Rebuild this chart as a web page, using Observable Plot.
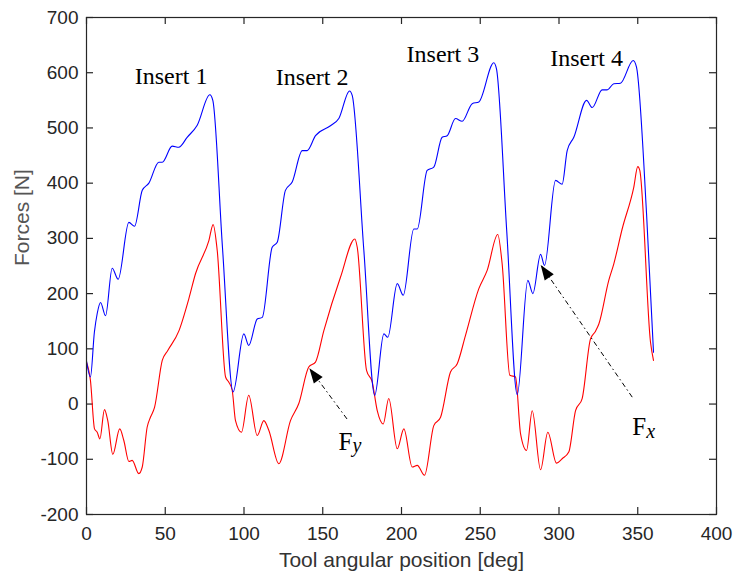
<!DOCTYPE html>
<html>
<head>
<meta charset="utf-8">
<script src="https://cdn.jsdelivr.net/npm/d3@7"></script>
<script src="https://cdn.jsdelivr.net/npm/@observablehq/plot@0.6"></script>
<style>
  html, body { margin: 0; padding: 0; background: #fff; }
  #chart { width: 737px; height: 580px; }
</style>
</head>
<body>
<div id="chart"></div>
<script>
// ---- Data ----
const fxAngle = [0, 2.5, 5.0, 6.8, 8.9, 12.1, 16.3, 20.1, 26.9, 30.5, 35.4, 39.6, 45.9, 48.1, 54.4, 58.6, 63.9, 70.3, 78.3, 80.2, 86.3, 93.1,
  99.9, 103, 108.4, 111.6, 117.9, 121.1, 126.3, 130.6, 137, 140.1, 145.4, 154.9, 160.2, 167, 168.7, 176.1, 183,
  188.8, 191.3, 197.3, 201.1, 207.8, 210, 216.3, 220.5, 225.8, 229, 234.3, 238.5, 244.9, 249.1, 258.6, 260.3, 266.8, 273.5,
  280.2, 283.4, 288.3, 290.8, 297.8, 302, 305.2, 309.4, 317.5, 321.1, 327.4, 330.6, 334.8, 339, 347.1, 349.2, 355.6, 360];
const fxForce = [78, 49, 130, 164, 184, 160, 246, 226, 329, 322, 387, 400, 438, 438, 467, 465, 483, 505, 560, 550, 285, 22,
  127, 106, 154, 157, 284, 293, 387, 402, 459, 459, 486, 504, 517, 567, 559, 278, 16,
  127, 121, 218, 197, 317, 317, 423, 429, 483, 486, 517, 512, 544, 547, 618, 607, 314, 17,
  224, 200, 271, 251, 405, 398, 459, 483, 550, 537, 569, 569, 580, 581, 622, 610, 344, 94];

const fyAngle = [0, 2.5, 5.1, 6.8, 8.5, 11.4, 13.5, 16.7, 21.1, 23.7, 26.9, 29, 33.2, 35.4, 38.5, 40.6, 43.2, 48.1, 51.6, 58.6,
  65, 69.2, 77.7, 80.4, 83, 88.3, 90.3, 92.5, 94.6, 98.4, 103, 108.4, 112.6, 115.8, 122.1, 129.5, 134.8, 141.1, 145.4,
  150.7, 161.3, 170.4, 171.9, 177.8, 181.4, 184.6, 188.4, 191.9, 197.3, 201.5, 206.8, 210, 214.6, 220.5, 224.8, 231.1,
  235.4, 240.6, 249.1, 254.4, 261.1, 263.9, 268.8, 272.4, 275.6, 279.4, 283, 288.3, 292.9, 298.4, 302, 306.2, 310.5,
  314.7, 320, 323.2, 325.3, 331.6, 334.8, 340.1, 347.5, 350, 351.3, 358.1, 360];
const fyForce = [76, 43, -45, -51, -63, -10, -30, -91, -45, -66, -104, -102, -126, -114, -42, -24, -6, 79, 97, 132,
  191, 236, 296, 325, 278, 49, 40, 25, -30, -51, 16, -57, -30, -48, -108, -30, 1, 67, 76,
  133, 230, 299, 284, 61, 40, -12, -36, 10, -81, -45, -114, -111, -129, -39, -24, 58,
  73, 124, 209, 242, 307, 254, 52, 49, -54, -84, -12, -119, -51, -107, -99, -87, -12,
  10, 118, 132, 145, 224, 254, 317, 393, 430, 423, 112, 79];

const xTicks = [0, 50, 100, 150, 200, 250, 300, 350, 400];
const yTicks = [-200, -100, 0, 100, 200, 300, 400, 500, 600, 700];

const insertLabels = ["Insert 1", "Insert 2", "Insert 3", "Insert 4"];
const insertX = [53.7, 143.3, 226.3, 317.5];
const insertY = [594, 591, 634, 626];

const forceMain = ["F", "F"];
const forceSub = ["y", "x"];
const forceX = [160, 346.5];
const forceY = [-68, -42];

const arrowTailX = [165.4, 346.5];
const arrowTailY = [-27, 12.5];
const arrowTipX = [141.8, 288.7];
const arrowTipY = [64, 251];

const xLabel = "Tool angular position [deg]";
const yLabel = "Forces [N]";

// ---- Build tables ----
const fx = fxAngle.map((a, i) => ({angle: a, force: fxForce[i]}));
const fy = fyAngle.map((a, i) => ({angle: a, force: fyForce[i]}));
const inserts = insertLabels.map((t, i) => ({t, x: insertX[i], y: insertY[i]}));
const forces = forceMain.map((t, i) => ({t, s: forceSub[i], x: forceX[i], y: forceY[i]}));
const arrows = arrowTailX.map((x1, i) => ({x1, y1: arrowTailY[i], x2: arrowTipX[i], y2: arrowTipY[i]}));

// ---- Layout ----
const W = 737, H = 580, mL = 86, mR = 21, mT = 17, mB = 66;
const plotW = W - mL - mR, plotH = H - mT - mB;
const tickLen = 7;
const axisColor = "#262626";
const sans = "'Liberation Sans', Arial, Helvetica, sans-serif";
const serif = "'Liberation Serif', 'Times New Roman', serif";

function arrowHeads(index, scales) {
  const g = d3.create("svg:g");
  for (const a of arrows) {
    const tx = scales.x(a.x2), ty = scales.y(a.y2);
    const sx = scales.x(a.x1), sy = scales.y(a.y1);
    const dx = sx - tx, dy = sy - ty, L = Math.hypot(dx, dy);
    const ux = dx / L, uy = dy / L;
    const len = 15, hw = 5.5;
    const bx = tx + ux * len, by = ty + uy * len;
    const p1 = [bx - uy * hw, by + ux * hw], p2 = [bx + uy * hw, by - ux * hw];
    g.append("path")
      .attr("d", `M${tx},${ty}L${p1[0]},${p1[1]}L${p2[0]},${p2[1]}Z`)
      .attr("fill", "#000");
  }
  return g.node();
}

const chart = Plot.plot({
  width: W,
  height: H,
  marginLeft: mL,
  marginRight: mR,
  marginTop: mT,
  marginBottom: mB,
  style: {fontFamily: sans, fontSize: "19px", color: axisColor, background: "#fff"},
  x: {domain: [0, 400]},
  y: {domain: [-200, 700]},
  marks: [
    Plot.axisX({ticks: xTicks, tickSize: 0, tickPadding: 12, tickFormat: d => String(d), label: null, fontSize: 19, fill: axisColor}),
    Plot.axisY({ticks: yTicks, tickSize: 0, tickPadding: 8, tickFormat: d => String(d), label: null, fontSize: 19, fill: axisColor}),
    // inward ticks on four sides
    Plot.ruleX(xTicks, {x: d => d, insetTop: plotH - tickLen, stroke: axisColor, strokeWidth: 1.2}),
    Plot.ruleX(xTicks, {x: d => d, insetBottom: plotH - tickLen, stroke: axisColor, strokeWidth: 1.2}),
    Plot.ruleY(yTicks, {y: d => d, insetRight: plotW - tickLen, stroke: axisColor, strokeWidth: 1.2}),
    Plot.ruleY(yTicks, {y: d => d, insetLeft: plotW - tickLen, stroke: axisColor, strokeWidth: 1.2}),
    Plot.line(fy, {x: "angle", y: "force", stroke: "#ff0000", strokeWidth: 1.1, curve: "monotone-x"}),
    Plot.line(fx, {x: "angle", y: "force", stroke: "#0000ff", strokeWidth: 1.1, curve: "monotone-x"}),
    Plot.frame({stroke: axisColor, strokeWidth: 1.2}),
    Plot.link(arrows, {x1: "x1", y1: "y1", x2: "x2", y2: "y2", stroke: "#000", strokeWidth: 1, strokeDasharray: "5,3,1.5,3"}),
    arrowHeads,
    Plot.text(inserts, {x: "x", y: "y", text: "t", fontFamily: serif, fontSize: 24, fill: "#000"}),
    Plot.text(forces, {x: "x", y: "y", text: "t", textAnchor: "start", fontFamily: serif, fontSize: 25, fill: "#000"}),
    Plot.text(forces, {x: "x", y: "y", text: "s", textAnchor: "start", dx: 14, dy: 4, fontFamily: serif, fontStyle: "italic", fontSize: 20, fill: "#000"}),
    Plot.text([xLabel], {frameAnchor: "bottom", dy: 52, fontSize: 21, fill: "#333"}),
    Plot.text([yLabel], {frameAnchor: "left", dx: -64, rotate: -90, fontSize: 21, fill: "#555"})
  ]
});

document.getElementById("chart").appendChild(chart);
</script>
</body>
</html>
